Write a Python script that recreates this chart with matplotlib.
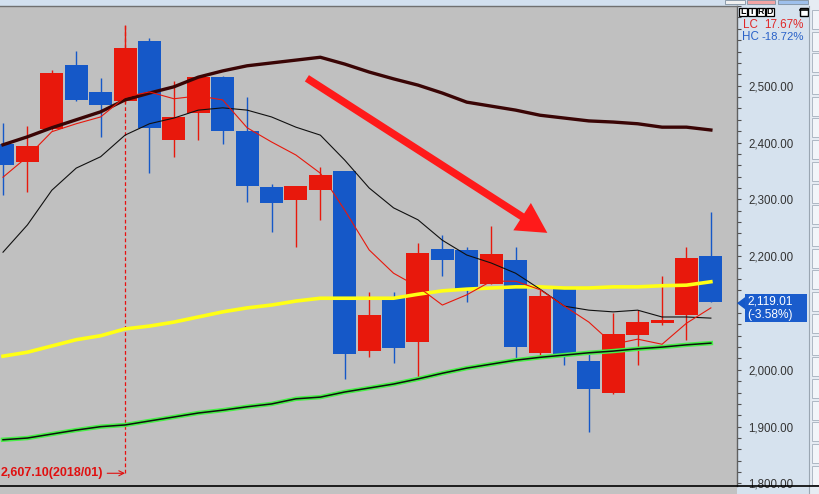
import numpy as np
import matplotlib
matplotlib.use("Agg")
import matplotlib.pyplot as plt
from matplotlib.patches import Rectangle, Polygon
from matplotlib.ticker import FixedLocator, MultipleLocator, FuncFormatter

plt.rcParams['font.family'] = ['Liberation Sans', 'DejaVu Sans']

# monthly candles, oldest first
opens  = [2397, 2366, 2424, 2536, 2489, 2473, 2579, 2404, 2452, 2515,
          2420, 2322, 2299, 2316, 2350, 2033, 2128, 2049, 2213, 2211,
          2151, 2193, 2030, 2142, 2016, 1959, 2061, 2082, 2097, 2200]
highs  = [2434, 2429, 2528, 2561, 2514, 2607.10, 2584, 2508, 2515, 2517,
          2480, 2327, 2323, 2357, 2350, 2137, 2137, 2223, 2237, 2216,
          2253, 2216, 2140, 2142, 2031, 2100, 2105, 2165, 2216, 2278]
lows   = [2308, 2313, 2422, 2473, 2410, 2470, 2346, 2375, 2404, 2397,
          2295, 2243, 2216, 2264, 1984, 2023, 2012, 1987, 2165, 2119,
          2151, 2017, 2026, 2009, 1891, 1958, 2009, 2079, 2052, 2119]
closes = [2360, 2394, 2522, 2475, 2466, 2566, 2426, 2445, 2515, 2420,
          2323, 2293, 2323, 2343, 2028, 2097, 2038, 2206, 2193, 2140,
          2204, 2040, 2130, 2024, 1966, 2063, 2084, 2088, 2197, 2119.01]

# moving averages
ma5   = [2339, 2375, 2419, 2433, 2445, 2480, 2489, 2477, 2482, 2475,
         2426, 2401, 2378, 2346, 2281, 2211, 2170, 2146, 2114, 2132,
         2156, 2156, 2141, 2112, 2084, 2045, 2054, 2045, 2082, 2109]
ma10  = [2207, 2255, 2316, 2355, 2375, 2413, 2433, 2443, 2457, 2461,
         2457, 2445, 2427, 2413, 2369, 2320, 2285, 2264, 2228, 2202,
         2188, 2170, 2142, 2112, 2105, 2102, 2105, 2093, 2093, 2091]
ma20  = [2396, 2410, 2426, 2440, 2454, 2475, 2487, 2498, 2515, 2526,
         2535, 2540, 2545, 2550, 2538, 2524, 2512, 2501, 2487, 2471,
         2464, 2457, 2448, 2443, 2438, 2436, 2433, 2427, 2427, 2422]
ma60  = [2024, 2031, 2042, 2053, 2060, 2072, 2077, 2084, 2093, 2102,
         2109, 2114, 2121, 2126, 2126, 2126, 2126, 2133, 2139, 2142,
         2144, 2146, 2146, 2144, 2144, 2146, 2146, 2148, 2149, 2155]
ma120 = [1877, 1880, 1887, 1894, 1900, 1903, 1910, 1917, 1924, 1929,
         1935, 1940, 1949, 1952, 1961, 1968, 1975, 1984, 1994, 2003,
         2010, 2017, 2022, 2026, 2030, 2033, 2037, 2040, 2044, 2047]

price_ticks = [1800, 1900, 2000, 2100, 2200, 2300, 2400, 2500]
last_change = "(-3.58%)"
lc_value = "17.67%"
hc_value = "-18.72%"
peak_index = 5
peak_label = "2,607.10(2018/01)"
peak_label_price = 1818
trend_start = (12.45, 2513)   # hand drawn arrow
trend_end = (22.3, 2241)

RED = '#e8180c'
BLUE = '#1558c8'
W, H = 819, 494


def fx(px):
    return px / W


def fy(py):
    return 1 - py / H


fig = plt.figure(figsize=(W / 100, H / 100), dpi=100)
fig.patch.set_facecolor('#d6e2ee')

# window chrome: top strip, bottom strip, right button column
fig.add_artist(Rectangle((0, fy(6)), 1, 6 / H, transform=fig.transFigure,
                         fc='#d2e0ef', ec='none', zorder=0))
fig.add_artist(Rectangle((0, 0), fx(737), fy(486), transform=fig.transFigure,
                         fc='#c2c2c2', ec='none', zorder=0))
fig.add_artist(Rectangle((fx(809), 0), fx(10), 1, transform=fig.transFigure,
                         fc='#e6ecf3', ec='none', zorder=0))
fig.add_artist(plt.Line2D([fx(809), fx(809)], [0, fy(6)], transform=fig.transFigure,
                          color='#9aa6b2', lw=0.8))
for k in range(22):
    y0 = 10 + k * 21.7
    fig.add_artist(Rectangle((fx(812), fy(y0 + 19)), fx(9), 19 / H, transform=fig.transFigure,
                             fc='#f2f5f9', ec='#aeb8c4', lw=0.7))
for x0, x1, c in [(725, 745, '#f0f0f0'), (747, 775, '#f2a4a4'), (778, 808, '#9ec0ec')]:
    fig.add_artist(Rectangle((fx(x0), fy(4)), fx(x1 - x0), 4 / H, transform=fig.transFigure,
                             fc=c, ec='#8090a0', lw=0.6))
fig.add_artist(plt.Line2D([0, fx(737)], [fy(6), fy(6)], transform=fig.transFigure,
                          color='#707070', lw=1.0))
fig.add_artist(plt.Line2D([0, 1], [fy(486), fy(486)], transform=fig.transFigure,
                          color='black', lw=1.2))

ax = fig.add_axes([0, fy(486), fx(737), 480 / H])
ax.set_facecolor('#c0c0c0')
idx = np.arange(len(opens))
colors = [RED if c >= o else BLUE for o, c in zip(opens, closes)]

# dashed marker for the high
ax.vlines(peak_index, peak_label_price, highs[peak_index], colors='#e81010',
          linestyles=(0, (3, 2)), lw=0.9, zorder=1)
ax.annotate(peak_label, xy=(peak_index, peak_label_price), xytext=(-22, 0),
            textcoords='offset pixels', ha='right', va='center', color='#e01010',
            fontsize=9.0, fontweight='bold',
            arrowprops=dict(arrowstyle='->', color='#e01010', lw=0.8, shrinkA=1, shrinkB=0))

ax.vlines(idx, lows, highs, colors=colors, lw=1.0, zorder=2)
ax.bar(idx, np.subtract(closes, opens), bottom=opens, width=0.94, color=colors,
       linewidth=0, zorder=3)

ax.plot(idx, ma20, color='#3a0505', lw=2.4, zorder=4)
ax.plot(idx, ma60, color='#ffff14', lw=2.6, zorder=4)
ax.plot(idx, ma120, color='#48f048', lw=3.2, zorder=4)
ax.plot(idx, ma120, color='#101010', lw=1.1, zorder=4)
ax.plot(idx, ma10, color='#101010', lw=0.8, zorder=5)
ax.plot(idx, ma5, color=RED, lw=0.8, zorder=5)

ax.annotate('', xy=trend_end, xytext=trend_start,
            arrowprops=dict(arrowstyle='simple,head_length=1.2,head_width=1.3,tail_width=0.3',
                            color='#ff1a1a', lw=0, mutation_scale=18, shrinkA=0, shrinkB=0),
            zorder=6)

ax.set_xlim(-0.123, 30.07)
ax.set_ylim(1795.6, 2640.2)
ax.set_xticks([])
for side in ['left', 'top', 'bottom']:
    ax.spines[side].set_visible(False)
ax.spines['right'].set_color('#606060')
ax.spines['right'].set_linewidth(1.0)
ax.yaxis.tick_right()
ax.yaxis.set_major_locator(FixedLocator(price_ticks))
ax.yaxis.set_minor_locator(MultipleLocator(20))
ax.yaxis.set_major_formatter(FuncFormatter(lambda v, p: f'{v:,.2f}'))
ax.tick_params(axis='y', which='both', direction='out', length=3, width=0.8,
               color='#505050', labelsize=8.3, labelcolor='#333333', pad=5)

# last price marker
fig.canvas.draw()
py = H - ax.transData.transform((0, closes[-1]))[1]
fig.add_artist(Polygon([(fx(737), fy(py + 1)), (fx(745), fy(py - 5)), (fx(745), fy(py + 7))],
                       closed=True, transform=fig.transFigure, fc=BLUE, ec='none'))
fig.add_artist(Rectangle((fx(745), fy(py + 20)), fx(62), 28 / H, transform=fig.transFigure,
                         fc='#1a5ccc', ec='none'))
fig.text(fx(747), fy(py - 1), f'{closes[-1]:,.2f}', color='white', fontsize=8.6,
         ha='left', va='center')
fig.text(fx(747), fy(py + 13), last_change, color='white', fontsize=8.6,
         ha='left', va='center')

# L I R D buttons and change labels
for k, letter in enumerate('LIRD'):
    x0 = 739 + 9 * k
    fig.add_artist(Rectangle((fx(x0), fy(16)), fx(8), 8 / H, transform=fig.transFigure,
                             fc='white', ec='black', lw=0.9))
    fig.text(fx(x0 + 4), fy(11.8), letter, fontsize=6.3, fontweight='bold',
             ha='center', va='center')
fig.add_artist(Rectangle((fx(800), fy(16)), fx(8), 8 / H, transform=fig.transFigure,
                         fc='white', ec='black', lw=1.0))
fig.add_artist(plt.Line2D([fx(800), fx(808)], [fy(10), fy(10)], transform=fig.transFigure,
                          color='black', lw=1.2))
fig.text(fx(743), fy(25), 'LC', color='#e02828', fontsize=8.4, ha='left', va='center')
fig.text(fx(804), fy(25), lc_value, color='#e02828', fontsize=8.4, ha='right', va='center')
fig.text(fx(742), fy(37), 'HC', color='#2a62c8', fontsize=8.4, ha='left', va='center')
fig.text(fx(804), fy(37), hc_value, color='#2a62c8', fontsize=8.2, ha='right', va='center')

fig.savefig('out.png', dpi=100)
